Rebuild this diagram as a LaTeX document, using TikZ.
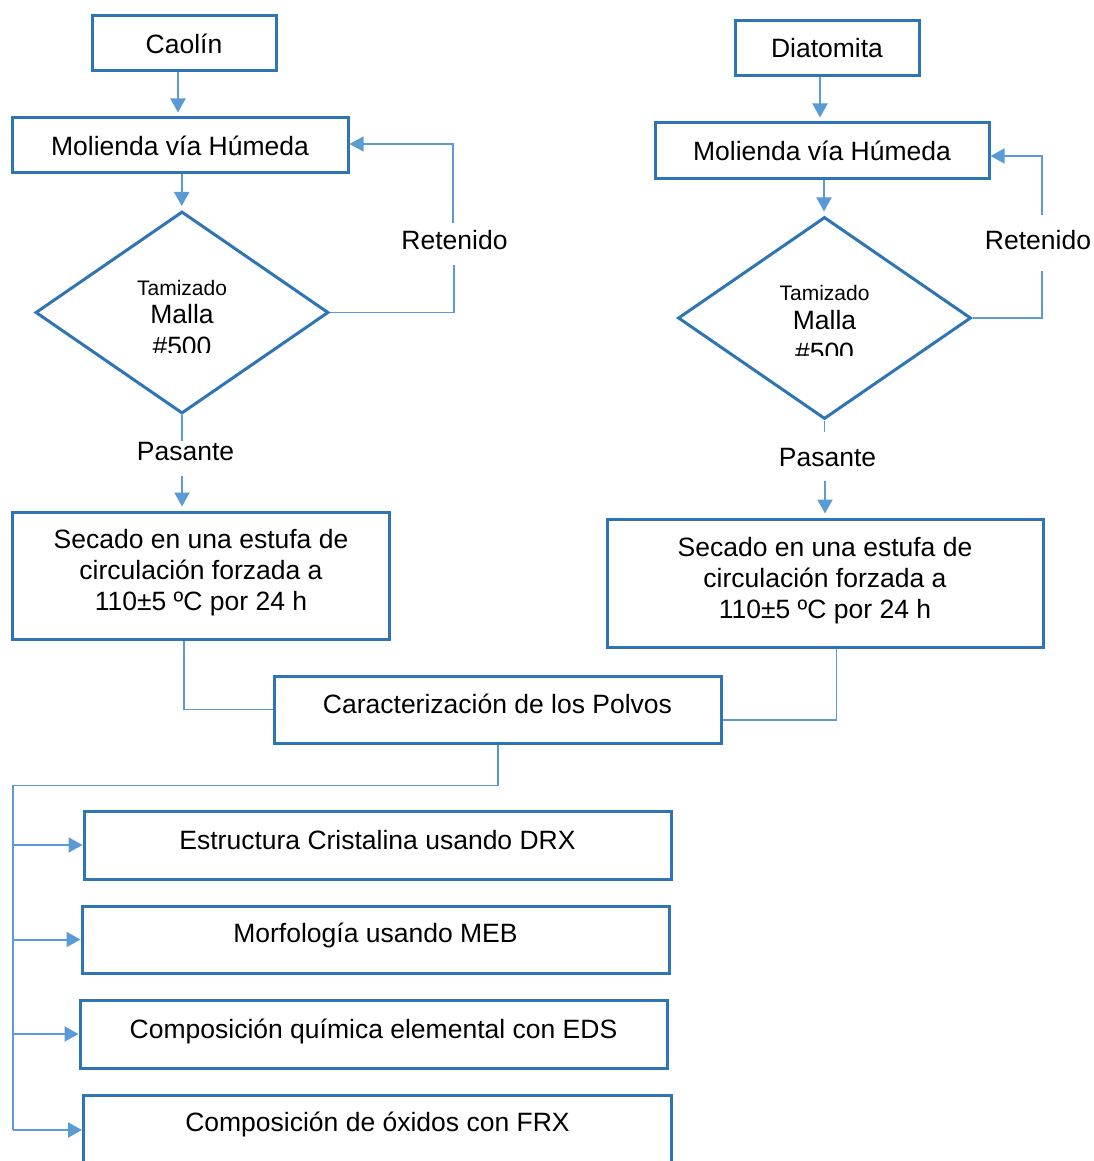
\documentclass[tikz,border=0pt]{standalone}
\usepackage{fontspec}
\setmainfont{Liberation Sans}
\usetikzlibrary{shapes.geometric,arrows.meta}
\definecolor{boxblue}{HTML}{2E75B6}
\definecolor{lineblue}{HTML}{5B9BD5}
\begin{document}
\begin{tikzpicture}[x=1pt,y=-1pt,
  box/.style={draw=boxblue,line width=3pt,fill=white,inner sep=0pt,font=\fontsize{26.5}{31}\selectfont,align=center},
  diam/.style={diamond,draw=boxblue,line width=3pt,fill=white,inner sep=0pt,minimum width=293pt,minimum height=202pt,aspect=1.45},
  lbl/.style={font=\fontsize{26.5}{31}\selectfont,inner sep=0pt,align=center},
  small/.style={font=\fontsize{21}{24}\selectfont,inner sep=0pt},
  conn/.style={draw=lineblue,line width=1.3pt},
  arr/.style={draw=lineblue,line width=2pt,-{Triangle[length=14pt,width=15pt]}},
  thinarr/.style={draw=lineblue,line width=1.3pt,-{Triangle[length=14pt,width=15pt]}},
]
\useasboundingbox[fill=white] (0,0) rectangle (1094,1161);

% ---------- left column ----------
\node[box,minimum width=184pt,minimum height=55pt] (cao) at (184,43.5) {Caolín};
\node[box,minimum width=336pt,minimum height=55pt] (mol1) at (180,145.5) {Molienda vía Húmeda};
\node[diam] (d1) at (182,312.5) {};
\node[small,anchor=base] (tam1) at (182,295) {Tamizado};
\node[lbl,anchor=base] (mal1) at (182,323) {Malla};
\begin{scope}
  \clip (0,0) rectangle (1094,352);
  \node[lbl,anchor=base] (num1) at (182,355) {\#500};
\end{scope}
\node[lbl] (ret1) at (454.5,240) {Retenido};
\node[lbl] (pas1) at (185.5,452) {Pasante};
\node[box,minimum width=377pt,minimum height=127pt] (sec1) at (200.5,575.5) {};
\node[lbl] (sec1t) at (201,573) {Secado en una estufa de\\circulación forzada a\\110±5 ºC por 24 h};

% ---------- right column ----------
\node[box,minimum width=184pt,minimum height=55pt] (dia) at (827,48.5) {Diatomita};
\node[box,minimum width=334pt,minimum height=56pt] (mol2) at (822,151) {Molienda vía Húmeda};
\node[diam] (d2) at (824.5,318) {};
\node[small,anchor=base] (tam2) at (824.5,300) {Tamizado};
\node[lbl,anchor=base] (mal2) at (824.5,329) {Malla};
\begin{scope}
  \clip (0,0) rectangle (1094,355);
  \node[lbl,anchor=base] (num2) at (824.5,361) {\#500};
\end{scope}
\node[lbl] (ret2) at (1038,240) {Retenido};
\node[lbl] (pas2) at (827.5,458) {Pasante};
\node[box,minimum width=436pt,minimum height=128pt] (sec2) at (825,583) {};
\node[lbl] (sec2t) at (825,580.5) {Secado en una estufa de\\circulación forzada a\\110±5 ºC por 24 h};

% ---------- centre / bottom ----------
\node[box,minimum width=447pt,minimum height=67pt] (car) at (497.5,709.5) {\raisebox{11pt}{Caracterización de los Polvos}};
\node[box,minimum width=587pt,minimum height=68pt] (b1) at (377.5,845) {\raisebox{10pt}{Estructura Cristalina usando DRX}};
\node[box,minimum width=587pt,minimum height=67pt] (b2) at (375.5,939.5) {\raisebox{14pt}{Morfología usando MEB}};
\node[box,minimum width=587pt,minimum height=68pt] (b3) at (373.5,1034) {\raisebox{10pt}{Composición química elemental con EDS}};
\node[box,minimum width=588pt,minimum height=70pt] (b4) at (377.5,1130) {\raisebox{17pt}{Composición de óxidos con FRX}};

% ---------- coordinates ----------
\coordinate (r1a) at (454,265);
\coordinate (r1b) at (453,223);
\coordinate (r2a) at (1042,271);
\coordinate (r2b) at (1042,215);
\coordinate (p1a) at (182,441);
\coordinate (p1b) at (182,476);
\coordinate (p2a) at (824.5,432);
\coordinate (p2b) at (825,481);
\coordinate (sp) at (13,785.5);
\coordinate (cj) at (836.5,720);

% ---------- connectors left ----------
\draw[arr,shorten >=4pt] ([xshift=-6pt]cao.south) -- ([xshift=-6pt]cao.south |- mol1.north);
\draw[arr,shorten >=4pt] ([xshift=1.7pt]mol1.south) -- ([xshift=1.7pt]mol1.south |- d1.north);
\draw[conn] (d1.east) -| (r1a);
\draw[thinarr] (r1b) |- ([yshift=1.5pt]mol1.east);
\draw[conn] (d1.south) -- (p1a);
\draw[arr,shorten >=4pt] (p1b) -- (p1b |- sec1.north);

% ---------- connectors right ----------
\draw[arr,shorten >=4pt] ([xshift=-7pt]dia.south) -- ([xshift=-7pt]dia.south |- mol2.north);
\draw[arr,shorten >=4pt] ([xshift=2pt]mol2.south) -- ([xshift=2pt]mol2.south |- d2.north);
\draw[conn] (d2.east) -| (r2a);
\draw[thinarr] (r2b) |- ([yshift=-5pt]mol2.east);
\draw[conn] (d2.south) -- (p2a);
\draw[arr,shorten >=4pt] (p2b) -- (p2b |- sec2.north);

% ---------- joins to Caracterización ----------
\draw[conn] ([xshift=-16.5pt]sec1.south) |- (car.west);
\draw[conn] (cj |- sec2.south) -- (cj) -- (cj -| car.east);

% ---------- spine ----------
\draw[draw=lineblue!85!boxblue,line width=2pt] (car.south) -- (car.south |- sp);
\draw[conn] (car.south |- sp) -- (sp) -- (b4.west -| sp);
\draw[arr] (b1.west -| sp) -- (b1.west);
\draw[arr] (b2.west -| sp) -- (b2.west);
\draw[arr] (b3.west -| sp) -- (b3.west);
\draw[arr] (b4.west -| sp) -- (b4.west);
\end{tikzpicture}
\end{document}
